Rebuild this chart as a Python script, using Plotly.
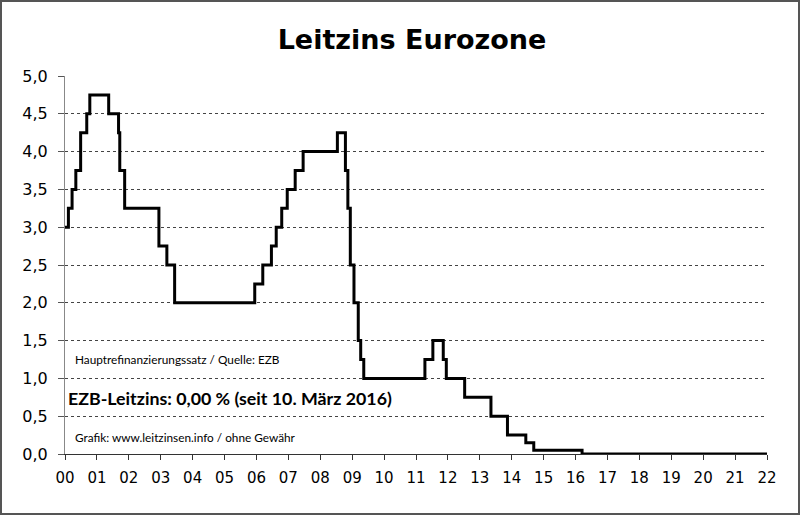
import plotly.graph_objects as go

# ECB main refinancing rate (change dates and new rate, %)
change_dates = [
    "2000-01-01", "2000-02-09", "2000-03-22", "2000-05-04", "2000-06-28",
    "2000-09-06", "2000-10-11", "2001-05-15", "2001-09-05", "2001-09-19",
    "2001-11-14", "2002-12-11", "2003-03-12", "2003-06-09", "2005-12-12",
    "2006-03-14", "2006-06-21", "2006-08-15", "2006-10-17", "2006-12-19",
    "2007-03-20", "2007-06-19", "2008-07-15", "2008-10-15", "2008-11-12",
    "2008-12-10", "2009-01-21", "2009-03-11", "2009-04-08", "2009-05-13",
    "2011-04-13", "2011-07-13", "2011-11-09", "2011-12-14", "2012-07-11",
    "2013-05-08", "2013-11-13", "2014-06-11", "2014-09-10", "2016-03-16",
    "2022-02-10",
]
rates = [
    3.00, 3.25, 3.50, 3.75, 4.25,
    4.50, 4.75, 4.50, 4.25, 3.75,
    3.25, 2.75, 2.50, 2.00, 2.25,
    2.50, 2.75, 3.00, 3.25, 3.50,
    3.75, 4.00, 4.25, 3.75, 3.25,
    2.50, 2.00, 1.50, 1.25, 1.00,
    1.25, 1.50, 1.25, 1.00, 0.75,
    0.50, 0.25, 0.15, 0.05, 0.00,
    0.00,
]
y_tickvals = [0.0, 0.5, 1.0, 1.5, 2.0, 2.5, 3.0, 3.5, 4.0, 4.5, 5.0]
y_ticktext = ["0,0", "0,5", "1,0", "1,5", "2,0", "2,5", "3,0", "3,5", "4,0", "4,5", "5,0"]

title_text = "Leitzins Eurozone"
note_source = "Hauptrefinanzierungssatz / Quelle: EZB"
note_current = "EZB-Leitzins: 0,00 % (seit 10. März 2016)"
note_credit = "Grafik: www.leitzinsen.info / ohne Gewähr"

W, H = 800, 515
L, R, T, B = 65, 33, 76, 61
pw, ph = W - L - R, H - T - B

fig = go.Figure()
fig.add_trace(go.Scatter(
    x=change_dates, y=rates, mode="lines", line_shape="hv",
    line=dict(color="black", width=3), showlegend=False, hoverinfo="x+y",
    cliponaxis=False,
))

tick_font = dict(family="DejaVu Sans", size=15, color="black")

fig.update_layout(
    width=W, height=H,
    margin=dict(l=L, r=R, t=T, b=B),
    paper_bgcolor="white", plot_bgcolor="white",
    title=dict(text="<b>" + title_text + "</b>", x=412 / W, xanchor="center",
               y=1 - 40 / H, yanchor="middle",
               font=dict(family="DejaVu Sans", size=27, color="black")),
    xaxis=dict(
        type="date", range=["2000-01-01", "2022-01-01"],
        dtick="M12", tick0="2000-01-01", tickformat="%y",
        showgrid=False, zeroline=False,
        showline=True, linecolor="#333", linewidth=1,
        ticks="outside", ticklen=5, tickcolor="#333",
        tickfont=tick_font, ticklabelstandoff=5,
    ),
    yaxis=dict(
        range=[0, 5], tickvals=y_tickvals, ticktext=y_ticktext,
        showgrid=True, gridcolor="#444", griddash="dot", gridwidth=1,
        zeroline=False, showline=True, linecolor="#888", linewidth=1,
        ticks="outside", ticklen=6, tickcolor="#555",
        tickfont=dict(family="DejaVu Sans", size=16, color="black"),
        ticklabelstandoff=7,
    ),
    shapes=[dict(
        type="rect", xref="paper", yref="paper",
        x0=(1 - L) / pw, x1=(W - 1 - L) / pw,
        y0=(ph + T - (H - 1)) / ph, y1=(ph + T - 1) / ph,
        line=dict(color="#555", width=2), fillcolor="rgba(0,0,0,0)",
    )],
)

def ann(text, x_px, y_px, size, bold=False):
    fig.add_annotation(
        text=("<b>" + text + "</b>") if bold else text,
        xref="paper", yref="paper",
        x=(x_px - L) / pw, y=(T + ph - y_px) / ph,
        xanchor="left", yanchor="middle", showarrow=False,
        font=dict(family="Lato", size=size, color="black"),
    )

ann(note_source, 73, 359, 11.8)
ann(note_current, 66, 398, 17.8, bold=True)
ann(note_credit, 73, 437, 11.8)

fig.write_html(
    "out.html",
    config={"displayModeBar": False},
    post_script="document.body.style.margin='0';document.body.style.padding='0';",
)
